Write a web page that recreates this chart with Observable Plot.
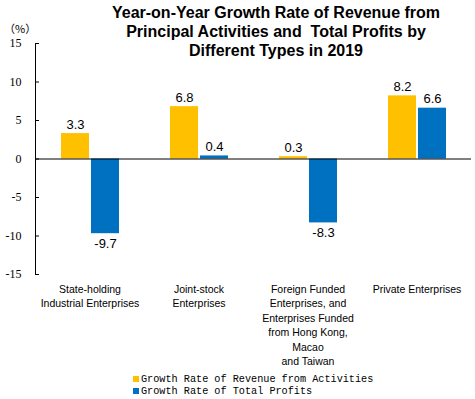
<!DOCTYPE html>
<html><head><meta charset="utf-8">
<script src="https://cdn.jsdelivr.net/npm/d3@7"></script>
<script src="https://cdn.jsdelivr.net/npm/@observablehq/plot@0.6"></script>
<style>
body{margin:0;background:#fff;}
#wrap{position:relative;width:475px;height:399px;overflow:hidden;}
#wrap svg{position:absolute;left:0;top:0;}
#title{position:absolute;left:76px;top:3px;width:400px;text-align:center;font:bold 16px "Liberation Sans",Arial,sans-serif;line-height:19px;color:#000;}
#unit{position:absolute;left:4px;top:20px;font:11px "Noto Sans CJK SC","Liberation Serif",serif;color:#000;}
#legend{position:absolute;left:133px;top:374px;font:10.2px "Liberation Mono",monospace;line-height:11.5px;color:#000;}
#legend .sw{display:inline-block;width:6px;height:6px;margin-right:2px;vertical-align:0px;}
#wrap svg g[aria-label="y-axis tick label"] text{font-family:"Liberation Serif",serif;}
</style></head>
<body><div id="wrap">
<div id="title">Year-on-Year Growth Rate of Revenue from<br>Principal Activities and&nbsp; Total Profits by<br>Different Types in 2019</div>
<div id="unit">（%）</div>
<div id="legend"></div>
</div>
<script>
const categories = [
  "State-holding\nIndustrial Enterprises",
  "Joint-stock\nEnterprises",
  "Foreign Funded\nEnterprises, and\nEnterprises Funded\nfrom Hong Kong,\nMacao\nand Taiwan",
  "Private Enterprises"
];
const seriesNames = ["Growth Rate of Revenue from Activities", "Growth Rate of Total Profits"];
const revenueGrowth = [3.3, 6.8, 0.3, 8.2];
const profitGrowth = [-9.7, 0.4, -8.3, 6.6];
const yTicks = [-15, -10, -5, 0, 5, 10, 15];
const colors = ["#FFC000", "#0070C0"];

const data = [];
categories.forEach((c, i) => {
  data.push({category: c, series: seriesNames[0], value: revenueGrowth[i]});
  data.push({category: c, series: seriesNames[1], value: profitGrowth[i]});
});

const chart = Plot.plot({
  width: 475,
  height: 399,
  marginLeft: 35,
  marginRight: 4,
  marginTop: 43,
  marginBottom: 125,
  style: {background: "transparent"},
  fx: {domain: categories, padding: 0, label: null},
  x: {domain: seriesNames, axis: null, paddingInner: 0.067, paddingOuter: 0.85},
  y: {domain: [-15, 15], label: null},
  color: {domain: seriesNames, range: colors},
  marks: [
    Plot.barY(data, {fx: "category", x: "series", y: "value", fill: "series"}),
    Plot.ruleY([0], {stroke: "#000", strokeWidth: 1}),
    Plot.frame({anchor: "left", facetAnchor: "left", stroke: "#000"}),
    Plot.ruleY(yTicks, {y: d => d, facetAnchor: "left", insetRight: 105, stroke: "#000"}),
    Plot.axisY({ticks: yTicks, tickSize: 0, tickPadding: 14, fontSize: 12, fontFamily: "Liberation Serif", label: null, tickFormat: d => String(d)}),
    Plot.axisFx({anchor: "bottom", tickSize: 0, tickPadding: 8, fontSize: 10.5, fontFamily: "Liberation Sans", lineHeight: 1.38, label: null, lineAnchor: "top"}),
    Plot.text(data.filter(d => d.value >= 0), {fx: "category", x: "series", y: "value", text: d => d.value.toFixed(1), lineAnchor: "bottom", dy: -5, fontSize: 13, fontFamily: "Liberation Sans", fill: "#000"}),
    Plot.text(data.filter(d => d.value < 0), {fx: "category", x: "series", y: "value", text: d => d.value.toFixed(1), lineAnchor: "top", dy: 5, fontSize: 13, fontFamily: "Liberation Sans", fill: "#000"})
  ]
});
document.getElementById("wrap").prepend(chart);

const legend = document.getElementById("legend");
seriesNames.forEach((s, i) => {
  const row = document.createElement("div");
  row.style.whiteSpace = "pre";
  const sw = document.createElement("span");
  sw.className = "sw";
  sw.style.background = colors[i];
  row.appendChild(sw);
  row.appendChild(document.createTextNode(s));
  legend.appendChild(row);
});
</script>
</body></html>
